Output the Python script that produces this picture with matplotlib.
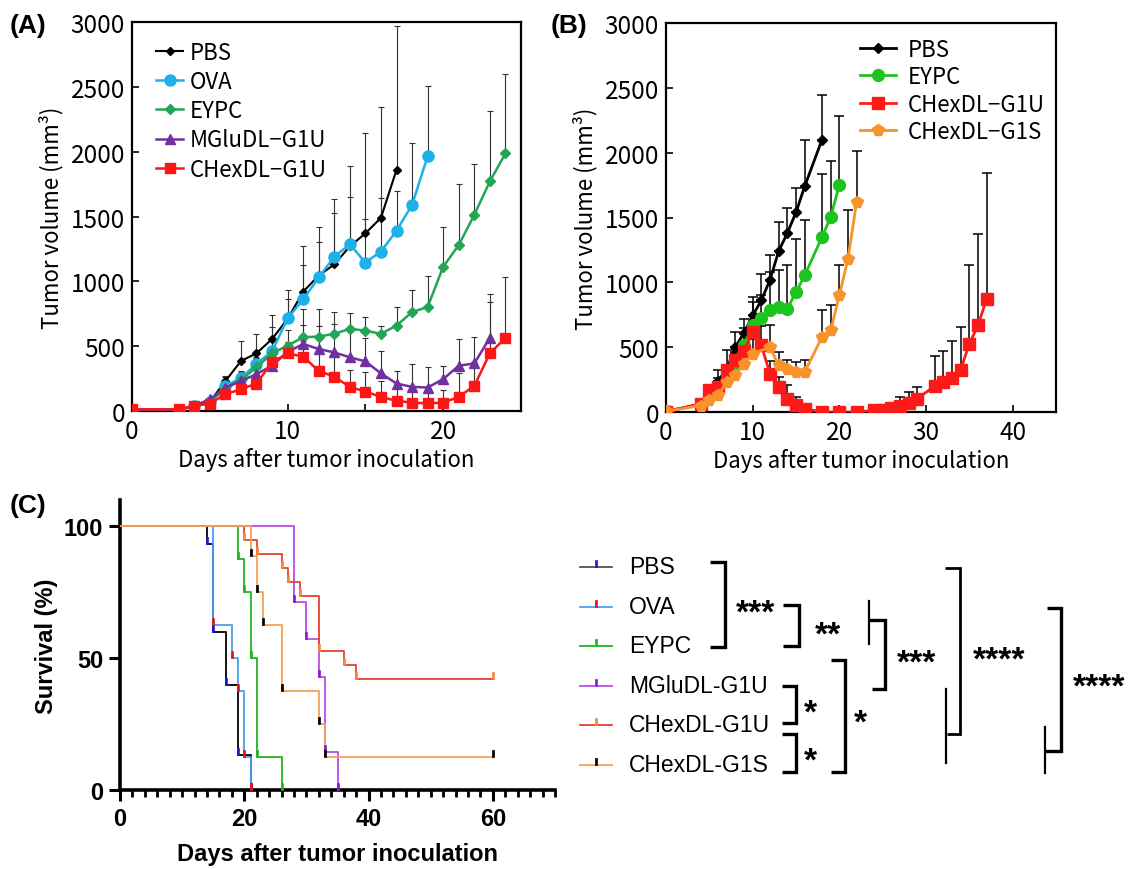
import numpy as np
import matplotlib
matplotlib.use('Agg')
import matplotlib.pyplot as plt
from matplotlib.markers import MarkerStyle

# ---------------- Panel A data ----------------
a_pbs_days = [0, 3, 4, 5, 6, 7, 8, 9, 10, 11, 12, 13, 14, 15, 16, 17]
a_pbs_vol = [10, 10, 40, 70, 230, 385, 445, 555, 710, 920, 1045, 1130, 1270, 1370, 1490, 1860]
a_pbs_err = [0, 0, 0, 0, 36, 155, 145, 182, 220, 350, 375, 507, 380, 776, 858, 1108]

a_ova_days = [0, 3, 4, 5, 6, 7, 8, 9, 10, 11, 12, 13, 14, 15, 16, 17, 18, 19]
a_ova_vol = [10, 10, 40, 70, 195, 253, 364, 460, 715, 860, 1030, 1190, 1285, 1145, 1230, 1390, 1590, 1965]
a_ova_err = [0, 0, 0, 0, 75, 57, 56, 190, 150, 265, 270, 340, 608, 335, 410, 309, 474, 538]

a_eypc_days = [0, 3, 4, 5, 6, 7, 8, 9, 10, 11, 12, 13, 14, 15, 16, 17, 18, 19, 20, 21, 22, 23, 24]
a_eypc_vol = [10, 10, 40, 70, 170, 240, 336, 445, 504, 569, 574, 595, 634, 620, 595, 659, 763, 802, 1112, 1280, 1513, 1771, 1986]
a_eypc_err = [0, 0, 0, 0, 40, 60, 70, 100, 120, 220, 215, 168, 121, 104, 64, 143, 168, 238, 310, 473, 393, 543, 613]

a_mglu_days = [0, 3, 4, 5, 6, 7, 8, 9, 10, 11, 12, 13, 14, 15, 16, 17, 18, 19, 20, 21, 22, 23]
a_mglu_vol = [10, 10, 40, 90, 180, 232, 284, 350, 455, 517, 478, 452, 414, 383, 290, 212, 186, 181, 246, 349, 367, 564]
a_mglu_err = [0, 0, 0, 0, 30, 40, 50, 60, 80, 150, 180, 220, 200, 180, 170, 100, 175, 160, 104, 207, 202, 341]

a_chex_days = [0, 3, 4, 5, 6, 7, 8, 9, 10, 11, 12, 13, 14, 15, 16, 17, 18, 19, 20, 21, 22, 23, 24]
a_chex_vol = [13, 13, 39, 57, 129, 168, 212, 375, 445, 419, 310, 264, 186, 150, 109, 78, 65, 59, 65, 109, 194, 445, 564]
a_chex_err = [0, 0, 0, 0, 20, 30, 40, 60, 80, 120, 250, 186, 134, 150, 121, 122, 110, 111, 95, 181, 186, 395, 470]

# ---------------- Panel B data ----------------
b_pbs_days = [0, 4, 5, 6, 7, 8, 9, 10, 11, 12, 13, 14, 15, 16, 18]
b_pbs_vol = [5, 60, 150, 240, 330, 500, 610, 745, 860, 1020, 1240, 1380, 1540, 1740, 2100]
b_pbs_err = [0, 40, 50, 81, 145, 116, 110, 141, 206, 187, 229, 192, 186, 354, 345]

b_eypc_days = [0, 4, 5, 6, 7, 8, 9, 10, 11, 12, 13, 14, 15, 16, 18, 19, 20]
b_eypc_vol = [5, 60, 130, 180, 260, 360, 520, 668, 724, 783, 809, 796, 925, 1053, 1349, 1503, 1752]
b_eypc_err = [0, 20, 40, 60, 80, 100, 130, 182, 176, 296, 283, 334, 411, 424, 488, 436, 534]

b_g1u_days = [0, 4, 5, 6, 7, 8, 9, 10, 11, 12, 13, 14, 15, 16, 18, 20, 22, 24, 25, 26, 27, 28, 29, 31, 32, 33, 34, 35, 36, 37]
b_g1u_vol = [0, 64, 167, 193, 321, 403, 468, 616, 514, 295, 193, 103, 57, 26, 0, 0, 0, 13, 18, 31, 46, 72, 103, 200, 231, 265, 326, 527, 668, 873]
b_g1u_err = [0, 10, 33, 67, 39, 47, 52, 84, 150, 100, 77, 103, 59, 14, 0, 0, 0, 7, 12, 29, 70, 82, 90, 232, 239, 280, 329, 603, 706, 971]

b_g1s_days = [0, 4, 5, 6, 7, 8, 9, 10, 12, 13, 14, 15, 16, 18, 19, 20, 21, 22]
b_g1s_vol = [5, 50, 90, 128, 231, 288, 372, 450, 500, 360, 334, 308, 308, 578, 629, 899, 1182, 1623]
b_g1s_err = [0, 20, 30, 42, 69, 72, 78, 110, 168, 100, 64, 77, 90, 205, 193, 231, 372, 393]

# ---------------- Panel C data (Kaplan-Meier) ----------------
c_groups = ['PBS', 'OVA', 'EYPC', 'MGluDL-G1U', 'CHexDL-G1U', 'CHexDL-G1S']
c_times = [
    [0, 14, 15, 17, 19, 21],
    [0, 15, 18, 19, 20, 21],
    [0, 19, 20, 21, 22, 26],
    [0, 28, 30, 32, 33, 35],
    [0, 20, 22, 26, 27, 29, 32, 36, 38, 60],
    [0, 21, 22, 23, 26, 32, 33, 60],
]
c_surv = [
    [100, 93.3, 60, 40, 13.3, 0],
    [100, 62.5, 50, 37.5, 12.5, 0],
    [100, 87.5, 75, 50, 12.5, 0],
    [100, 71.4, 57.1, 42.9, 14.3, 0],
    [100, 94.7, 89.5, 84.2, 78.9, 73.7, 52.6, 47.4, 42.1, 42.1],
    [100, 88.9, 75, 62.5, 37.5, 25, 12.5, 12.5],
]
c_line_colors = ['#000000', '#4a9ff0', '#22b422', '#b84ee8', '#e8402e', '#f5a055']
c_mark_colors = ['#1a1adc', '#e8101a', '#22b422', '#8a1ad8', '#f5873a', '#000000']

# significance brackets
sig_labels = ['***', '**', '*', '*', '*', '***', '****', '****']

W, H = 1129, 870
fig = plt.figure(figsize=(W / 100, H / 100), dpi=100)
JP = ['Noto Sans CJK JP', 'DejaVu Sans']
AR = ['Liberation Sans', 'DejaVu Sans']


def px_axes(l, t, r, b):
    return fig.add_axes([l / W, 1 - b / H, (r - l) / W, (b - t) / H])


def series(ax, x, y, e, color, marker, ms, lw, label, ecol, elw, cap):
    ax.errorbar(x, y, yerr=[np.zeros(len(e)), e], fmt='none', ecolor=ecol,
                elinewidth=elw, capsize=cap, capthick=elw, zorder=2)
    ax.plot(x, y, color=color, marker=marker, ms=ms, lw=lw, label=label,
            mec=color, mfc=color, zorder=3)


def style_box(ax, xmax, xmaj, xmin):
    ax.set_xlim(0, xmax)
    ax.set_ylim(0, 3000)
    ax.set_yticks(np.arange(0, 3001, 500))
    ax.set_xticks(xmaj)
    ax.set_xticks(xmin, minor=True)
    ax.tick_params(which='both', direction='in', length=5, width=1.2, labelsize=17.5, pad=5)
    for lab in ax.get_xticklabels() + ax.get_yticklabels():
        lab.set_family(JP)
    for s in ax.spines.values():
        s.set_linewidth(1.6)
    ax.set_xlabel('Days after tumor inoculation', family=JP, fontsize=16, labelpad=2)
    ax.set_ylabel('Tumor volume (mm³)', family=JP, fontsize=16, labelpad=5)


# ---------------- Panel A ----------------
axA = px_axes(132, 23, 521, 412)
series(axA, a_pbs_days, a_pbs_vol, a_pbs_err, '#000000', 'D', 4.5, 1.5, 'PBS', '#333333', 0.8, 2)
series(axA, a_ova_days, a_ova_vol, a_ova_err, '#1fb0ea', 'o', 8, 1.8, 'OVA', '#333333', 0.8, 2)
series(axA, a_eypc_days, a_eypc_vol, a_eypc_err, '#22a555', 'D', 5, 1.8, 'EYPC', '#333333', 0.8, 2)
series(axA, a_mglu_days, a_mglu_vol, a_mglu_err, '#7030a0', '^', 7.5, 1.8, 'MGluDL−G1U', '#333333', 0.8, 2)
series(axA, a_chex_days, a_chex_vol, a_chex_err, '#ff1515', 's', 7, 1.8, 'CHexDL−G1U', '#333333', 0.8, 2)
style_box(axA, 25, [0, 10, 20], [5, 15])
legA = axA.legend(loc='upper left', bbox_to_anchor=(0.04, 0.975), frameon=False,
                  prop={'family': JP, 'size': 16}, handlelength=1.2,
                  handletextpad=0.3, labelspacing=0.28, borderaxespad=0)

# ---------------- Panel B ----------------
axB = px_axes(666, 24, 1056, 413)
series(axB, b_pbs_days, b_pbs_vol, b_pbs_err, '#000000', 'D', 5, 2.0, 'PBS', '#000000', 1.1, 3.5)
series(axB, b_eypc_days, b_eypc_vol, b_eypc_err, '#1ec41e', 'o', 8.5, 2.0, 'EYPC', '#000000', 1.1, 3.5)
series(axB, b_g1u_days, b_g1u_vol, b_g1u_err, '#ff1a1a', 's', 8.5, 2.0, 'CHexDL−G1U', '#000000', 1.1, 3.5)
series(axB, b_g1s_days, b_g1s_vol, b_g1s_err, '#f7932a', 'p', 8.5, 2.0, 'CHexDL−G1S', '#000000', 1.1, 3.5)
style_box(axB, 45, [0, 10, 20, 30, 40], [])
legB = axB.legend(loc='upper left', bbox_to_anchor=(0.475, 0.985), frameon=False,
                  prop={'family': JP, 'size': 16}, handlelength=1.6,
                  handletextpad=0.55, labelspacing=0.2, borderaxespad=0)

# ---------------- Panel C ----------------
axC = px_axes(120, 501, 555, 791)
tick_marker = MarkerStyle([(-0.2, 0), (0.2, 0), (0.2, 1), (-0.2, 1), (-0.2, 0)])
for t, s, lc, mc in zip(c_times, c_surv, c_line_colors, c_mark_colors):
    axC.step(t, s, where='post', color=lc, lw=1.3, zorder=3)
    axC.plot(t[1:], s[1:], ls='none', marker=tick_marker, ms=10, mfc=mc, mec=mc,
             mew=0.5, zorder=4, clip_on=False)
axC.set_xlim(0, 70)
axC.set_ylim(0, 110)
axC.spines['top'].set_visible(False)
axC.spines['right'].set_visible(False)
axC.spines['left'].set_linewidth(2.6)
axC.spines['bottom'].set_linewidth(2.6)
axC.set_yticks([0, 50, 100])
axC.set_xticks([0, 20, 40, 60])
axC.set_xticks(np.arange(0, 71, 2), minor=True)
axC.tick_params(which='major', direction='out', length=8, width=2.2, labelsize=17, pad=4)
axC.tick_params(which='minor', direction='out', length=5, width=2.0)
axC.tick_params(axis='y', which='minor', length=0)
for lab in axC.get_xticklabels() + axC.get_yticklabels():
    lab.set_family(AR)
    lab.set_fontweight('bold')
axC.set_xlabel('Days after tumor inoculation', family=AR, fontweight='bold', fontsize=17, labelpad=9)
axC.set_ylabel('Survival (%)', family=AR, fontweight='bold', fontsize=17, labelpad=4)

# ---------------- overlay: panel letters, survival legend, brackets ----------------
ov = fig.add_axes([0, 0, 1, 1], zorder=10)
ov.set_xlim(0, W)
ov.set_ylim(H, 0)
ov.set_axis_off()
ov.patch.set_visible(False)

for txt, x, y in [('(A)', 10, 26), ('(B)', 551, 26), ('(C)', 10, 506)]:
    ov.text(x, y, txt, family=AR, fontweight='bold', fontsize=19, va='center', ha='left')

row0, pitch = 568, 39.5
for i, (g, lc, mc) in enumerate(zip(c_groups, c_line_colors, c_mark_colors)):
    y = row0 + i * pitch
    ov.plot([580, 612], [y, y], color=lc if i else '#555555', lw=1.3)
    ov.plot([596], [y], ls='none', marker=tick_marker, ms=10, mfc=mc, mec=mc, mew=0.5)
    ov.text(629, y, g, family=AR, fontsize=16.5, va='center', ha='left')

thick, thin = 2.4, 1.6
SZ = 24
brackets = [
    # (x_arm, x_vert, y_top, y_bot, label_x, label_y, lw)
    (710, 725, 563, 648, 756, 614, thick),
    (783, 799, 606, 647, 828, 636, thick),
    (782, 796, 687, 724, 810, 714, thick),
    (782, 796, 735, 773, 810, 762, thick),
    (831, 845, 661, 773, 860, 724, thick),
]
for (xa, xv, yt, yb, lx, ly, lw), lab in zip(brackets, sig_labels[:5]):
    ov.plot([xa, xv, xv, xa], [yt, yt, yb, yb], color='black', lw=lw,
            solid_joinstyle='miter', solid_capstyle='butt')
    ov.text(lx, ly, lab, family=AR, fontweight='bold', fontsize=SZ, ha='center', va='center')

# dendrogram-like bracket (***)
ov.plot([869, 869], [602, 645], color='black', lw=thin)
ov.plot([869, 885, 885, 872], [621, 621, 690, 690], color='black', lw=thick,
        solid_joinstyle='miter', solid_capstyle='butt')
ov.text(917, 664, sig_labels[5], family=AR, fontweight='bold', fontsize=SZ, ha='center', va='center')
# middle ****
ov.plot([945, 960, 960, 947], [569, 569, 735, 735], color='black', lw=thin + 0.4,
        solid_joinstyle='miter', solid_capstyle='butt')
ov.plot([946, 946], [690, 764], color='black', lw=thin)
ov.text(999, 661, sig_labels[6], family=AR, fontweight='bold', fontsize=SZ, ha='center', va='center')
# right ****
ov.plot([1047, 1061, 1061, 1045], [609, 609, 752, 752], color='black', lw=thick,
        solid_joinstyle='miter', solid_capstyle='butt')
ov.plot([1045, 1045], [728, 774], color='black', lw=thin)
ov.text(1099, 688, sig_labels[7], family=AR, fontweight='bold', fontsize=SZ, ha='center', va='center')

fig.savefig('out.png', dpi=100)
